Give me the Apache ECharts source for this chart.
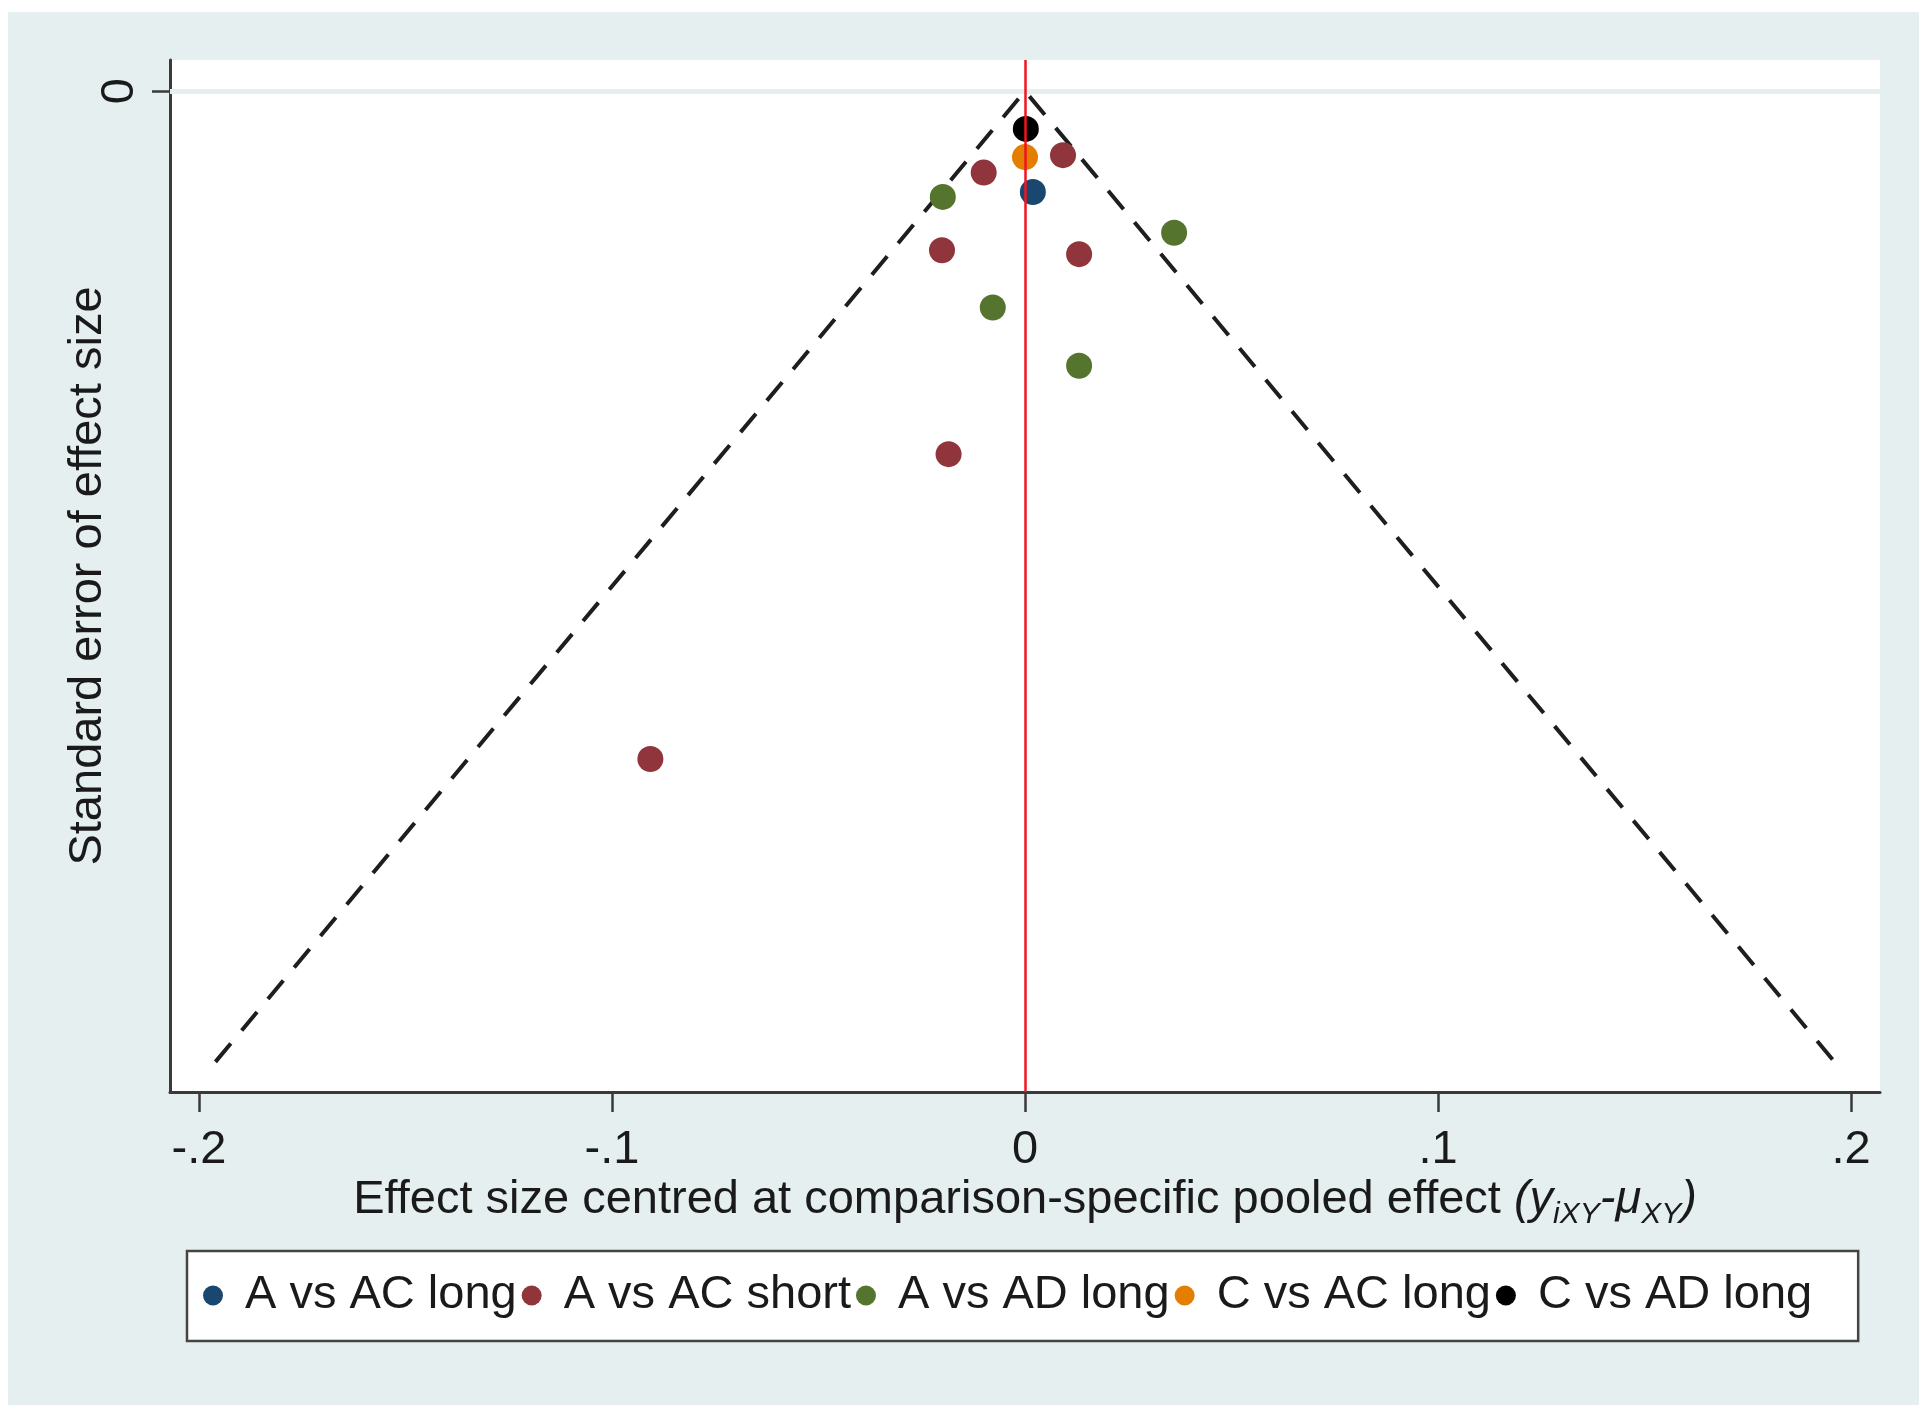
<!DOCTYPE html>
<html lang="en">
<head>
    <meta charset="UTF-8">
    <title>Funnel plot</title>
    <style>
        body { margin: 0; background: #fff; }
        #main { position: absolute; left: 8px; top: 12px; width: 1911px; height: 1393px; }
    </style>
</head>
<body>
<div id="main"></div>
<script src="https://cdn.jsdelivr.net/npm/echarts@6/dist/echarts.min.js"></script>
<script type="text/javascript">
    // effect size (x) and standard error (y) per comparison
    var seriesNames = ['A vs AC long', 'A vs AC short', 'A vs AD long', 'C vs AC long', 'C vs AD long'];
    var seriesColors = ['#1A476F', '#90353B', '#55752F', '#E37E00', '#000000'];
    var aAcLong = [[0.0019, 0.0104]];
    var aAcShort = [[0.0092, 0.0066], [-0.0100, 0.0084], [-0.0201, 0.0164], [0.0131, 0.0168],
        [-0.0185, 0.0374], [-0.0907, 0.0688]];
    var aAdLong = [[-0.0199, 0.0109], [0.0361, 0.0146], [-0.0078, 0.0223], [0.0131, 0.0283]];
    var cAcLong = [[0.0000, 0.0068]];
    var cAdLong = [[0.0002, 0.0039]];
    var pointSets = [aAcLong, aAcShort, aAdLong, cAcLong, cAdLong];

    // pseudo 95% limits: +-1.96*SE, SE from 0 to 0.1
    var funnelX = [-0.196, 0, 0.196];
    var funnelY = [0.1, 0, 0.1];

    var xTickValues = [-0.2, -0.1, 0, 0.1, 0.2];
    var xTickLabels = ['-.2', '-.1', '0', '.1', '.2'];
    var yTickValues = [0];
    var yTickLabels = ['0'];

    var font = 'Liberation Sans, Arial, sans-serif';
    var textColor = '#1a1a1a';
    var axisColor = '#3a3a3a';

    var myChart = echarts.init(document.getElementById('main'));

    var series = [{
        name: 'funnel',
        type: 'line',
        data: funnelX.map(function (x, i) { return [x, funnelY[i]]; }),
        symbol: 'none',
        z: 1,
        silent: true,
        lineStyle: { color: '#1e1e1e', width: 4, type: [24, 17] },
        markLine: {
            symbol: 'none',
            silent: true,
            label: { show: false },
            animation: false,
            data: [
                { yAxis: 0, lineStyle: { color: '#E6EFF0', width: 5, type: 'solid' } },
                { xAxis: 0, lineStyle: { color: '#F0141E', width: 2.5, type: 'solid' } }
            ]
        }
    }];
    pointSets.forEach(function (pts, i) {
        series.push({
            name: seriesNames[i],
            type: 'scatter',
            data: pts,
            symbol: 'circle',
            symbolSize: 26,
            z: 3,
            itemStyle: { color: seriesColors[i], opacity: 1 }
        });
    });

    option = {
        backgroundColor: '#E5EFF0',
        animation: false,
        textStyle: { fontFamily: font },
        grid: {
            left: 162, top: 48, width: 1710, height: 1032,
            show: true, backgroundColor: '#ffffff', borderWidth: 0
        },
        legend: {
            data: seriesNames,
            left: 179, top: 1239,
            orient: 'horizontal',
            icon: 'circle',
            itemWidth: 20, itemHeight: 20,
            itemGap: 5,
            padding: [21, 46, 22, 16],
            borderColor: '#444', borderWidth: 2.5,
            backgroundColor: '#ffffff',
            textStyle: { fontSize: 47, color: textColor, fontFamily: font, padding: [0, 0, 0, 17] }
        },
        xAxis: {
            type: 'value',
            min: -0.207, max: 0.207,
            name: 'Effect size centred at comparison-specific pooled effect {it|(y}{sub|iXY}{it|-μ}{sub|XY}{it|)}',
            nameLocation: 'middle',
            nameGap: 78,
            nameMoveOverlap: false,
            nameTextStyle: {
                fontSize: 47, color: textColor, fontFamily: font, lineHeight: 60,
                rich: {
                    it: { fontSize: 47, fontStyle: 'italic', color: textColor, fontFamily: font, lineHeight: 60 },
                    sub: { fontSize: 30, fontStyle: 'italic', color: textColor, fontFamily: font,
                        verticalAlign: 'bottom', lineHeight: 30 }
                }
            },
            axisLine: { onZero: false, lineStyle: { color: axisColor, width: 3 } },
            axisTick: { customValues: xTickValues, length: 20, lineStyle: { color: axisColor, width: 2.5 } },
            axisLabel: {
                customValues: xTickValues,
                margin: 35,
                fontSize: 47, color: textColor, fontFamily: font,
                formatter: function (v) {
                    for (var i = 0; i < xTickValues.length; i++) {
                        if (Math.abs(xTickValues[i] - v) < 1e-9) return xTickLabels[i];
                    }
                    return '';
                }
            },
            splitLine: { show: false }
        },
        yAxis: {
            type: 'value',
            inverse: true,
            min: -0.0032, max: 0.1031,
            name: 'Standard error of effect size',
            nameLocation: 'middle',
            nameGap: 58,
            nameMoveOverlap: false,
            nameTextStyle: { fontSize: 47, color: textColor, fontFamily: font },
            axisLine: { onZero: false, lineStyle: { color: axisColor, width: 3 } },
            axisTick: { customValues: yTickValues, length: 18, lineStyle: { color: axisColor, width: 2.5 } },
            axisLabel: {
                customValues: yTickValues,
                rotate: 90,
                margin: 26,
                fontSize: 47, color: textColor, fontFamily: font,
                formatter: function (v) {
                    var i = yTickValues.indexOf(v);
                    return i >= 0 ? yTickLabels[i] : '';
                }
            },
            splitLine: { show: false }
        },
        series: series
    };
    myChart.setOption(option);
</script>
</body>
</html>
